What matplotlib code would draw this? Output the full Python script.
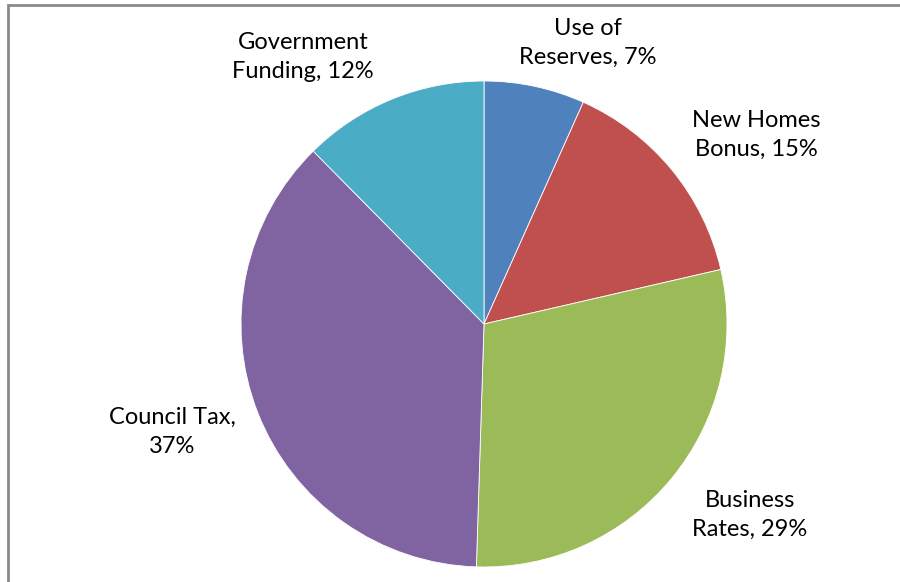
import matplotlib
matplotlib.use("Agg")
import matplotlib.pyplot as plt
from matplotlib.patches import Rectangle

labels = ["Use of\nReserves, 7%", "New Homes\nBonus, 15%", "Business\nRates, 29%",
          "Council Tax,\n37%", "Government\nFunding, 12%"]
values = [6.7, 14.7, 29.1, 37.1, 12.4]
colors = ["#4F81BD", "#C0504D", "#9BBB59", "#8064A2", "#4BACC6"]
label_pos = [(588, 43), (756, 135), (750, 515), (172, 432), (303, 57)]

plt.rcParams['font.family'] = ['Lato', 'DejaVu Sans']

fig = plt.figure(figsize=(9, 5.82), dpi=100)
ax = fig.add_axes([0, 0, 1, 1])

# outer frame
fig.patches.append(Rectangle((7.5 / 900, -0.05), 1.0, 1 - 4.5 / 582 + 0.05,
                             transform=fig.transFigure, fill=False,
                             edgecolor='#8a8a8a', linewidth=2))

# pie drawn with y inverted, so counterclock=True gives clockwise on screen
ax.pie(values, colors=colors, startangle=-90, counterclock=True,
       center=(484, 324), radius=243, frame=True,
       wedgeprops=dict(edgecolor='white', linewidth=0.6))
ax.set_xlim(0, 900)
ax.set_ylim(582, 0)
ax.set_aspect('equal')
ax.axis('off')

for text, (x, y) in zip(labels, label_pos):
    ax.text(x, y, text, ha='center', va='center', fontsize=17, linespacing=1.5)

fig.savefig("out.png", dpi=100)
